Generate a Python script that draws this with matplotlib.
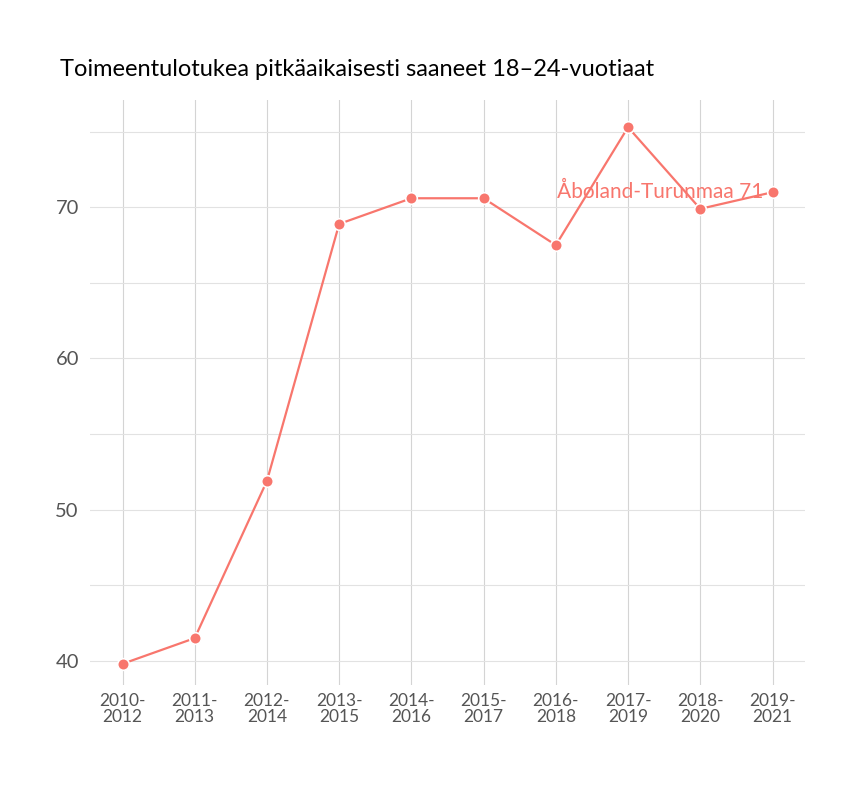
import matplotlib
matplotlib.use("Agg")
import matplotlib.pyplot as plt

periods = ["2010-\n2012","2011-\n2013","2012-\n2014","2013-\n2015","2014-\n2016",
           "2015-\n2017","2016-\n2018","2017-\n2019","2018-\n2020","2019-\n2021"]
values = [39.8, 41.5, 51.9, 68.9, 70.6, 70.6, 67.5, 75.3, 69.9, 71.0]
label = "Åboland-Turunmaa 71"
color = "#F8766D"

plt.rcParams['font.family'] = ['Lato', 'DejaVu Sans']
fig = plt.figure(figsize=(8.64, 7.92), dpi=100)
ax = fig.add_axes([90/864, 1-685/792, 715/864, 585/792])
x = list(range(len(values)))
ax.plot(x, values, color=color, lw=1.6, zorder=3)
ax.scatter(x, values, s=70, color=color, edgecolor="white", linewidth=1.2, zorder=4)
ax.text(x[-1]-0.12, values[-1], label, color=color, fontsize=15, ha="right", va="center", zorder=5)
ax.set_xlim(-0.45, 9.45)
ax.set_ylim(38.4, 77.1)
ax.set_xticks(x)
ax.set_xticklabels(periods, fontsize=12.5, color="#555555", linespacing=1.0)
ax.set_yticks([40, 50, 60, 70])
ax.set_yticks([45, 55, 65, 75], minor=True)
ax.tick_params(axis="y", labelsize=14.5, colors="#555555", length=0, pad=8)
ax.tick_params(axis="y", which="minor", length=0)
ax.tick_params(axis="x", length=0, pad=6)
ax.grid(True, which="both", color="#e2e2e2", lw=0.8)
ax.grid(True, axis="x", color="#d4d4d4", lw=0.8)
for s in ax.spines.values():
    s.set_visible(False)
fig.text(60/864, 1-70/792, "Toimeentulotukea pitkäaikaisesti saaneet 18–24-vuotiaat",
         fontsize=17, va="center", ha="left", color="black")
fig.savefig("out.png", dpi=100, facecolor="white")
